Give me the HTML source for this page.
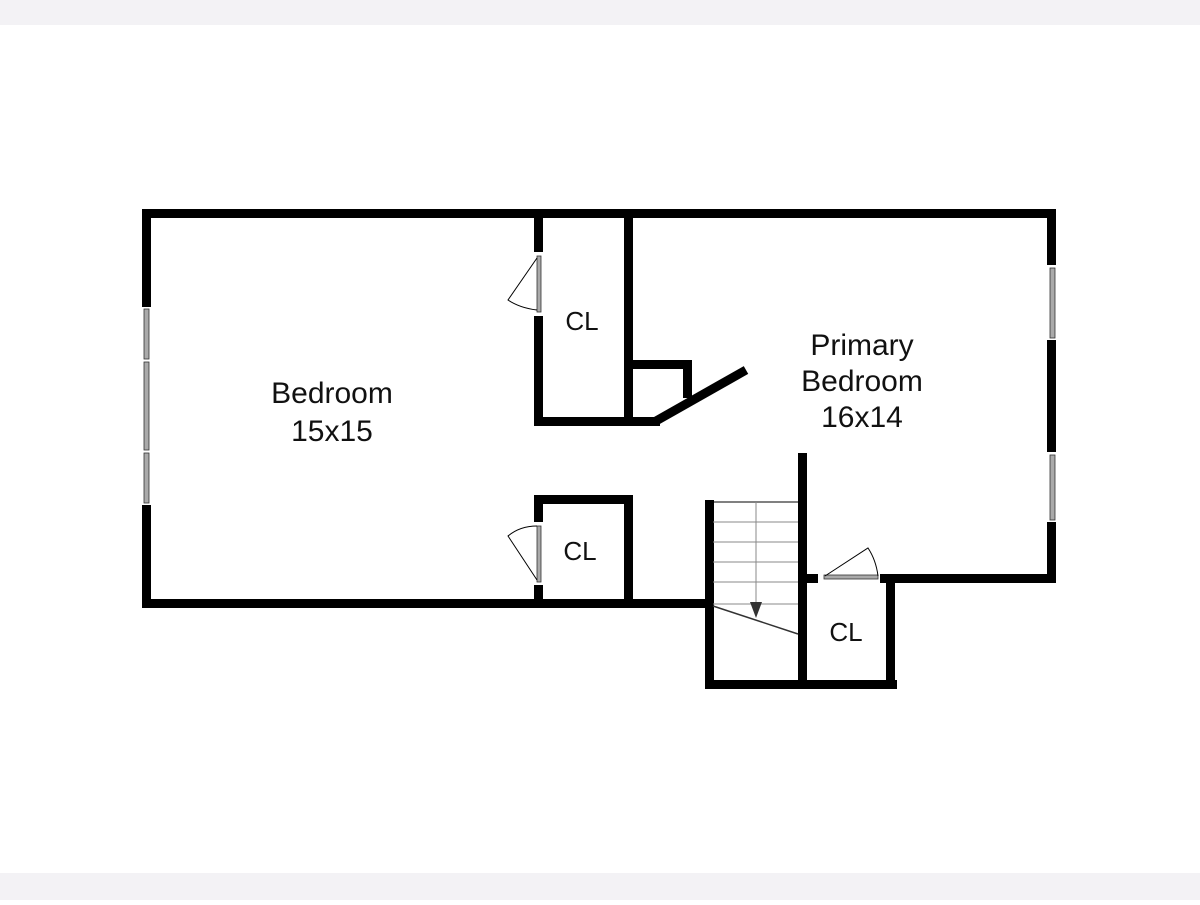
<!DOCTYPE html>
<html><head><style>
body{margin:0;width:1200px;height:900px;background:#fff;overflow:hidden}
</style></head><body>
<svg width="1200" height="900" xmlns="http://www.w3.org/2000/svg">
<rect x="0" y="0" width="1200" height="25" fill="#f3f2f5"/>
<rect x="0" y="873" width="1200" height="27" fill="#f3f2f5"/>
<g fill="#000">
<rect x="142" y="209" width="914" height="9"/>
<rect x="142" y="209" width="9" height="98"/>
<rect x="142" y="505" width="9" height="102"/>
<rect x="142" y="599" width="571" height="9"/>
<rect x="1047" y="209" width="9" height="56"/>
<rect x="1047" y="340" width="9" height="112"/>
<rect x="1047" y="522" width="9" height="60"/>
<rect x="880" y="574" width="176" height="9"/>
<rect x="534" y="217" width="9" height="35"/>
<rect x="534" y="316" width="9" height="109"/>
<rect x="624" y="217" width="9" height="208"/>
<rect x="534" y="417" width="126" height="9"/>
<rect x="624" y="360" width="67" height="9"/>
<rect x="683" y="360" width="9" height="38"/>
<rect x="534" y="495" width="98" height="9"/>
<rect x="534" y="495" width="9" height="27"/>
<rect x="534" y="585" width="9" height="20"/>
<rect x="624" y="495" width="9" height="110"/>
<rect x="705" y="500" width="9" height="188"/>
<rect x="705" y="680" width="192" height="9"/>
<rect x="798" y="453" width="9" height="235"/>
<rect x="886" y="574" width="9" height="114"/>
<rect x="806" y="574" width="12" height="9"/>
</g>
<line x1="656" y1="421" x2="746" y2="370" stroke="#000" stroke-width="9"/>
<g fill="#aaa" stroke="#333" stroke-width="0.8">
<rect x="144" y="309" width="5" height="50"/><rect x="144" y="362" width="5" height="88"/><rect x="144" y="453" width="5" height="50"/>
<rect x="1050" y="268" width="5" height="70"/><rect x="1050" y="455" width="5" height="65"/>
<rect x="537" y="256" width="4" height="56"/><rect x="537" y="526" width="4" height="56"/>
<rect x="824" y="575" width="54" height="4"/>
</g>
<g fill="none" stroke="#000" stroke-width="1">
<path d="M537 258 L508 300 Q520 308 537 310"/>
<path d="M537 580 L508 536 Q520 526 537 526"/>
<path d="M825 576 L868 548 Q876 560 878 576"/>
</g>
<g stroke="#888" stroke-width="1">
<line x1="713" y1="502" x2="798" y2="502" stroke="#000"/>
<line x1="713" y1="522" x2="798" y2="522"/><line x1="713" y1="542" x2="798" y2="542"/>
<line x1="713" y1="562" x2="798" y2="562"/><line x1="713" y1="582" x2="798" y2="582"/>
<line x1="713" y1="604" x2="798" y2="604"/>
<line x1="756" y1="502" x2="756" y2="605"/>
</g>
<line x1="713" y1="606" x2="798" y2="634" stroke="#333" stroke-width="1.5"/>
<polygon points="750,602 762,602 756,618" fill="#333"/>
<g font-family="Liberation Sans, sans-serif" font-size="30" fill="#111" text-anchor="middle">
<text x="332" y="403">Bedroom</text><text x="332" y="441">15x15</text>
<text x="862" y="355">Primary</text><text x="862" y="391">Bedroom</text><text x="862" y="427">16x14</text>
<text x="582" y="330" font-size="26">CL</text>
<text x="580" y="560" font-size="26">CL</text>
<text x="846" y="641" font-size="26">CL</text>
</g>
</svg>
</body></html>
